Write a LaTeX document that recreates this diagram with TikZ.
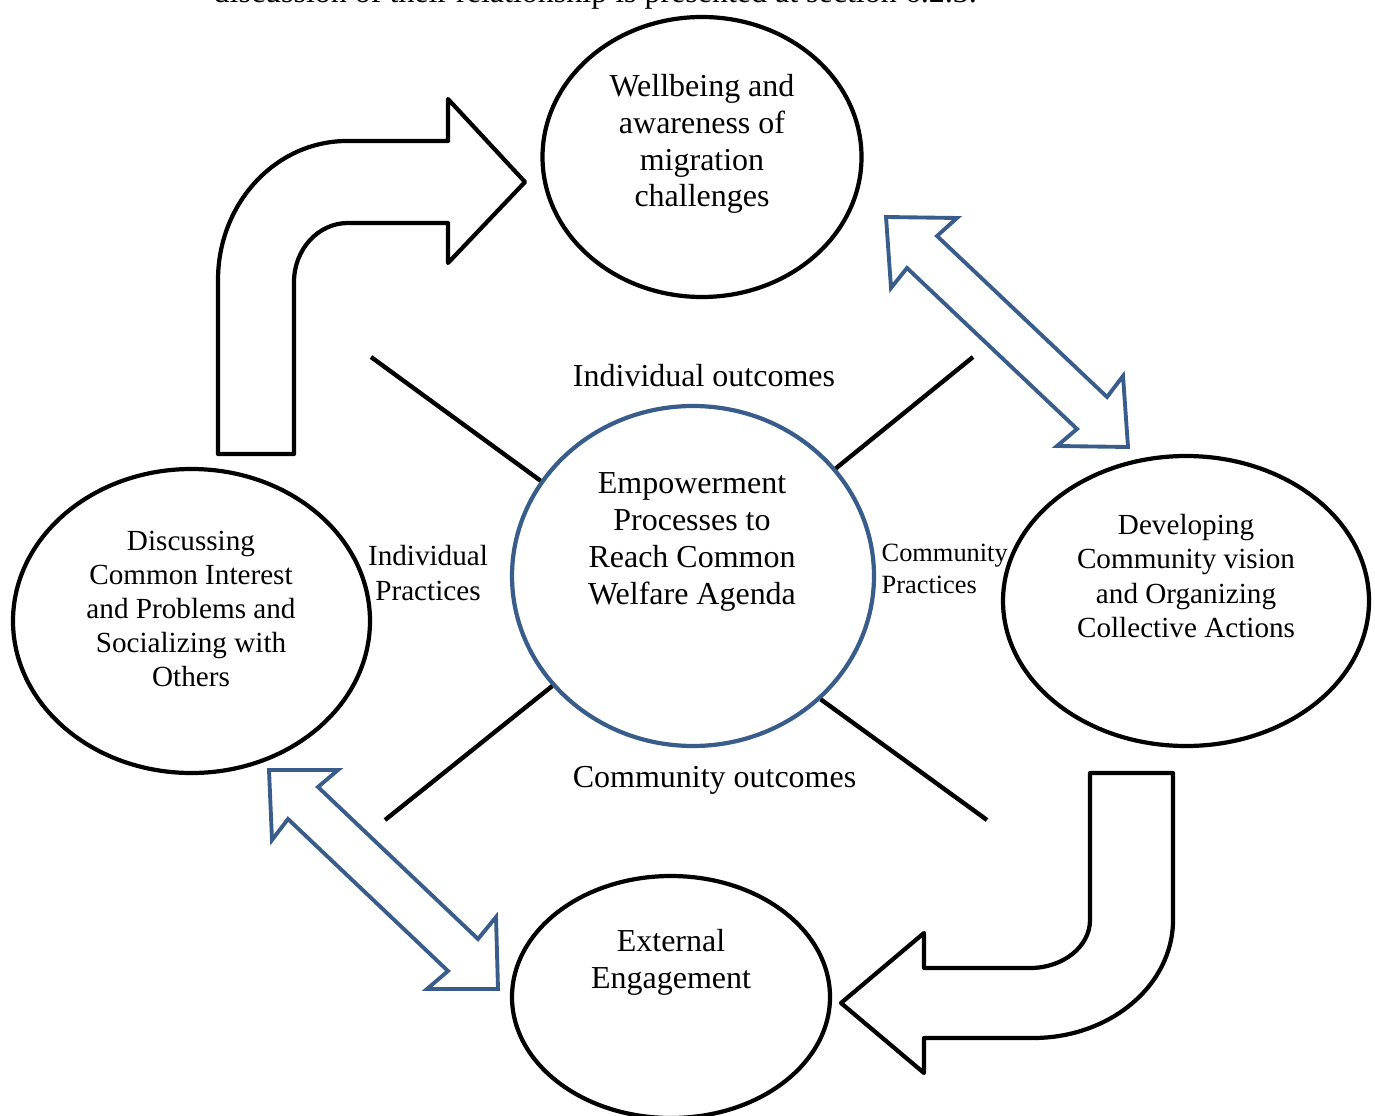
\documentclass[tikz,border=0pt]{standalone}
\usepackage{fontspec}
\setmainfont{Liberation Serif}
\usetikzlibrary{shapes.geometric, positioning}
\definecolor{arrowblue}{RGB}{56,93,138}

\begin{document}
\begin{tikzpicture}[
  bubble/.style={draw, ellipse, line width=1.2pt, inner sep=0pt},
  big/.style={align=center, font=\fontsize{9.1}{10.5}\selectfont},
  small/.style={align=center, font=\fontsize{8.3}{9.7}\selectfont},
  spoke/.style={line width=1.25pt},
  bent/.style={draw, line width=1.2pt, line join=round},
  twoway/.style={draw=arrowblue, line width=1.1pt, line join=miter}]
\useasboundingbox (0,0) rectangle (13.75,-11.15);

% cut line of the page text above the figure
\node[anchor=base west, inner sep=0pt, font=\fontsize{9.1}{10.5}\selectfont] (cap) at (2.13,-0.03)
  {discussion of their relationship is presented at section 6.2.3.};

% ellipses
\node[bubble, minimum width=3.19cm, minimum height=2.80cm] (W) at (7.02,-1.57) {};
\node[bubble, draw=arrowblue, minimum width=3.62cm, minimum height=3.40cm] (C) at (6.93,-5.76) {};
\node[bubble, minimum width=3.57cm, minimum height=3.04cm] (L) at (1.915,-6.21) {};
\node[bubble, minimum width=3.66cm, minimum height=2.90cm] (R) at (11.86,-6.01) {};
\node[bubble, minimum width=3.18cm, minimum height=2.42cm] (B) at (6.71,-9.97) {};

\node[big] (Wt) at (7.02,-1.44) {Wellbeing and\\awareness of\\migration\\challenges};
\node[big] (Ct) at (6.92,-5.42) {Empowerment\\Processes to\\Reach Common\\Welfare Agenda};
\node[small] (Lt) at (1.91,-6.09) {Discussing\\Common Interest\\and Problems and\\Socializing with\\Others};
\node[small] (Rt) at (11.86,-5.76) {Developing\\Community vision\\and Organizing\\Collective Actions};
\node[big] (Bt) at (6.71,-9.62) {External\\Engagement};

% labels round the centre
\node[big] (io) at (7.04,-3.76) {Individual outcomes};
\node[big] (co) at (7.145,-7.80) {Community outcomes};
\node[small] (ip) at (4.28,-5.73) {Individual\\Practices};
\node[align=left, anchor=west, inner sep=0pt, font=\fontsize{7.5}{9.1}\selectfont] (cp) at (8.81,-5.69) {Community\\Practices};

% spokes
\coordinate (s1) at (3.71,-3.57);
\coordinate (s2) at (9.73,-3.57);
\coordinate (s3) at (3.85,-8.20);
\coordinate (s4) at (9.87,-8.20);
\draw[spoke] (C.148.8) -- (s1);
\draw[spoke] (C.37.8) -- (s2);
\draw[spoke] (C.218.7) -- (s3);
\draw[spoke] (C.316.6) -- (s4);

% bent arrows
\draw[bent] (2.18,-4.54) -- (2.18,-2.80)
  arc[start angle=180, end angle=90, x radius=1.29, y radius=1.39]
  -- (4.48,-1.41) -- (4.48,-0.99) -- (5.25,-1.82) -- (4.48,-2.63) -- (4.48,-2.23) -- (3.48,-2.23)
  arc[start angle=90, end angle=180, x radius=0.54, y radius=0.59]
  -- (2.94,-4.54) -- cycle;
\draw[bent] (10.90,-7.73) -- (11.73,-7.73) -- (11.73,-9.20)
  arc[start angle=0, end angle=-90, x radius=1.40, y radius=1.18]
  -- (9.24,-10.38) -- (9.24,-10.73) -- (8.41,-10.03) -- (9.24,-9.33) -- (9.24,-9.68) -- (10.30,-9.68)
  arc[start angle=-90, end angle=0, x radius=0.60, y radius=0.48]
  -- cycle;

% two-way arrows
\draw[twoway] (8.86,-2.17) -- (9.57,-2.18) -- (9.37,-2.36) -- (11.07,-3.97) -- (11.23,-3.76)
  -- (11.28,-4.47) -- (10.57,-4.46) -- (10.77,-4.29) -- (9.07,-2.68) -- (8.91,-2.88) -- cycle;
\draw[twoway] (2.69,-7.70) -- (3.38,-7.70) -- (3.18,-7.87) -- (4.78,-9.39) -- (4.96,-9.17)
  -- (4.98,-9.89) -- (4.27,-9.89) -- (4.48,-9.71) -- (2.88,-8.19) -- (2.72,-8.40) -- cycle;
\end{tikzpicture}
\end{document}
